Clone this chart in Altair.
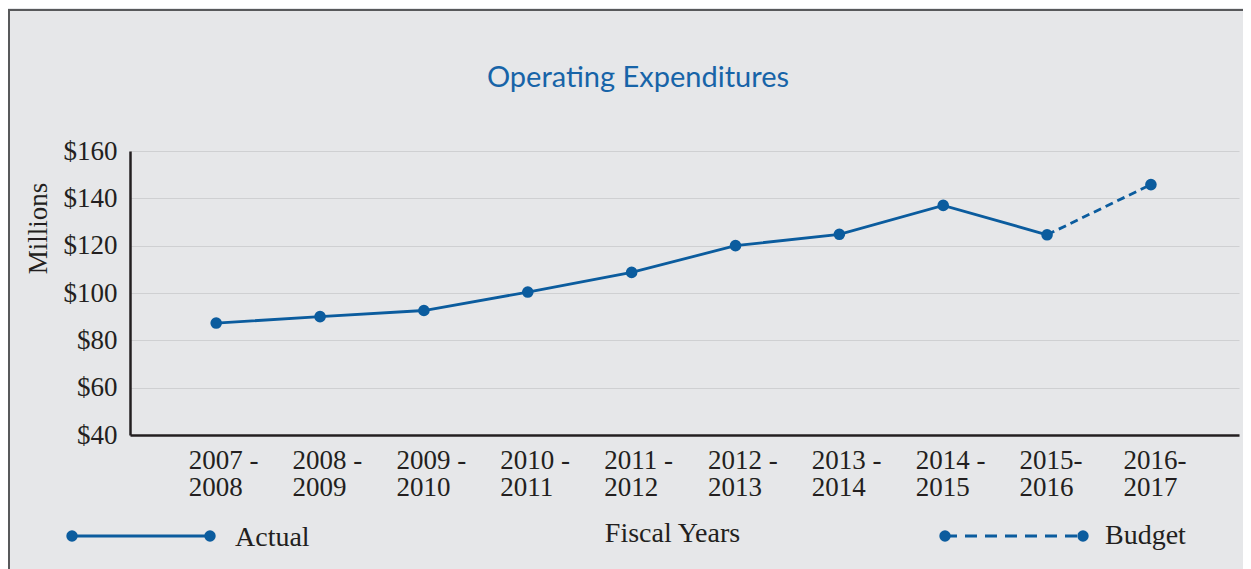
import altair as alt
import pandas as pd

# ---- data ----
years = ["2007 -|2008", "2008 -|2009", "2009 -|2010", "2010 -|2011", "2011 -|2012",
         "2012 -|2013", "2013 -|2014", "2014 -|2015", "2015-|2016", "2016-|2017"]
values = [87.3, 90.0, 92.6, 100.4, 108.7, 120.0, 124.8, 137.0, 124.6, 145.8]
actual_idx = [0, 1, 2, 3, 4, 5, 6, 7, 8]
budget_idx = [8, 9]
y_ticks = [40, 60, 80, 100, 120, 140, 160]
legend_labels = ["Actual", "Budget"]
chart_title = ["Operating Expenditures"]

BLUE = "#0b5c9e"
TITLE_BLUE = "#1764a8"
INK = "#231f20"
SERIF = "Liberation Serif"

df = pd.DataFrame({"i": list(range(len(years))), "year": years, "value": values})
df_actual = df.iloc[actual_idx]
df_budget = df.iloc[budget_idx]

W, H = 1109, 284

label_js = "[" + ",".join("'" + y + "'" for y in years) + "]"

x_enc = alt.X(
    "i:Q",
    scale=alt.Scale(domain=[-0.83, 9.848], nice=False, zero=False),
    axis=alt.Axis(
        values=list(range(len(years))),
        labelExpr="split(" + label_js + "[datum.value], '|')",
        grid=False, ticks=False,
        domainColor=INK, domainWidth=2.5,
        labelFont=SERIF, labelFontSize=27, labelColor=INK,
        labelAlign="left", labelOffset=-28, labelBaseline="top",
        labelPadding=12, labelLineHeight=27, labelFlush=False, labelOverlap=False,
        title="Fiscal Years", titleFont=SERIF, titleFontSize=28,
        titleFontWeight="normal", titleColor=INK,
        titleX=542, titleY=98, titleAlign="center", titleBaseline="middle",
    ),
)
y_enc = alt.Y(
    "value:Q",
    scale=alt.Scale(domain=[40, 160], nice=False, zero=False),
    axis=alt.Axis(
        values=y_ticks, format="$d", ticks=False,
        domainColor=INK, domainWidth=2.5,
        grid=True, gridColor="#cfd0d2", gridWidth=1.2,
        labelFont=SERIF, labelFontSize=27, labelColor=INK, labelPadding=13,
        title="Millions", titleFont=SERIF, titleFontSize=27,
        titleFontWeight="normal", titleColor=INK, titleAngle=270,
        titleX=-92, titleY=77, titleAlign="center", titleBaseline="middle",
    ),
)

frame = alt.Chart(pd.DataFrame({"k": [0]})).mark_rect(
    fillOpacity=0, stroke="#58595b", strokeWidth=2
).encode(x=alt.value(-121), x2=alt.value(1600), y=alt.value(-141), y2=alt.value(1000))

title = alt.Chart(pd.DataFrame({"t": chart_title})).mark_text(
    font="Lato", fontSize=29, color=TITLE_BLUE, align="center", baseline="alphabetic"
).encode(x=alt.value(508), y=alt.value(-64), text="t:N")

line_actual = alt.Chart(df_actual).mark_line(color=BLUE, strokeWidth=2.8).encode(x=x_enc, y=y_enc)
line_budget = alt.Chart(df_budget).mark_line(color=BLUE, strokeWidth=2.8, strokeDash=[8, 5]).encode(x=x_enc, y=y_enc)
points = alt.Chart(df).mark_circle(size=135, color=BLUE, opacity=1).encode(x=x_enc, y=y_enc)

# ---- custom legend below the axis ----
leg_a = pd.DataFrame({"label": [legend_labels[0]]})
leg_b = pd.DataFrame({"label": [legend_labels[1]]})
LY = 385

leg_a_line = alt.Chart(leg_a).mark_rule(color=BLUE, strokeWidth=2.8).encode(
    x=alt.value(-58), x2=alt.value(80), y=alt.value(LY))
leg_a_p1 = alt.Chart(leg_a).mark_circle(size=130, color=BLUE, opacity=1).encode(x=alt.value(-58), y=alt.value(LY))
leg_a_p2 = alt.Chart(leg_a).mark_circle(size=130, color=BLUE, opacity=1).encode(x=alt.value(80), y=alt.value(LY))
leg_a_txt = alt.Chart(leg_a).mark_text(font=SERIF, fontSize=28, color=INK, align="left", baseline="middle").encode(
    x=alt.value(105), y=alt.value(LY + 2), text="label:N")

leg_b_line = alt.Chart(leg_b).mark_rule(color=BLUE, strokeWidth=2.8, strokeDash=[12, 8]).encode(
    x=alt.value(815), x2=alt.value(953), y=alt.value(LY))
leg_b_p1 = alt.Chart(leg_b).mark_circle(size=130, color=BLUE, opacity=1).encode(x=alt.value(815), y=alt.value(LY))
leg_b_p2 = alt.Chart(leg_b).mark_circle(size=130, color=BLUE, opacity=1).encode(x=alt.value(953), y=alt.value(LY))
leg_b_txt = alt.Chart(leg_b).mark_text(font=SERIF, fontSize=28, color=INK, align="left", baseline="middle").encode(
    x=alt.value(975), y=alt.value(LY), text="label:N")

chart = alt.layer(
    frame, title, line_actual, line_budget, points,
    leg_a_line, leg_a_p1, leg_a_p2, leg_a_txt,
    leg_b_line, leg_b_p1, leg_b_p2, leg_b_txt,
).properties(
    width=W, height=H,
    background="#e6e7e9",
    padding={"left": 122, "top": 143, "right": 4, "bottom": 134},
    autosize=alt.AutoSizeParams(type="none"),
).configure_view(stroke=None)

chart.save("out.html", embed_options={"renderer": "svg", "actions": False})
